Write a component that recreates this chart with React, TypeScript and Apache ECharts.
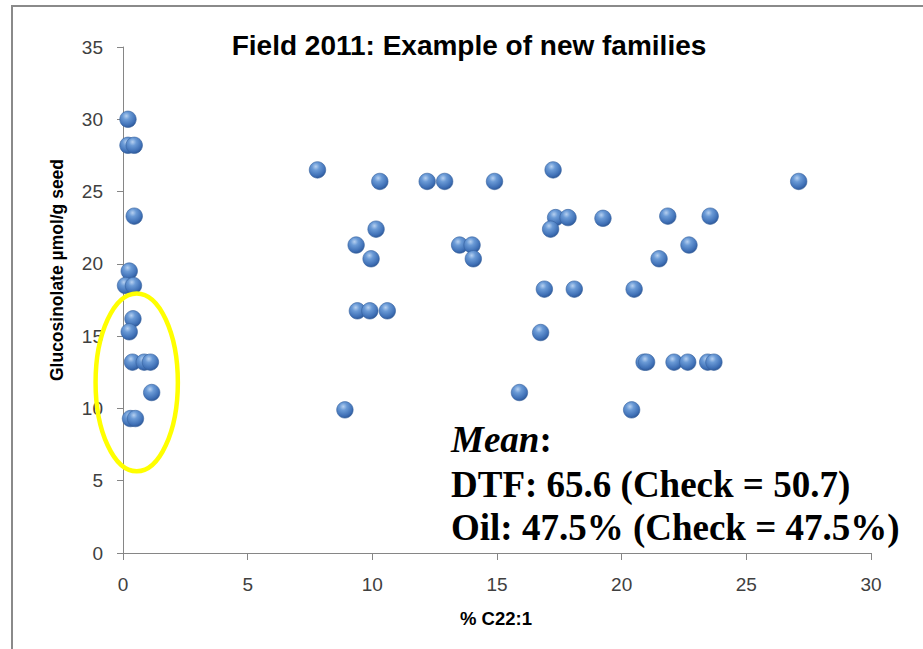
import React, { useEffect, useRef } from "react";
import * as echarts from "echarts";

// % C22:1 values
const xValues: number[] = [
  0.2, 0.2, 0.45, 0.45, 0.25, 0.1, 0.42, 0.4, 0.25, 0.38, 0.85, 1.1, 1.15, 0.3, 0.5,
  7.8, 10.3, 12.2, 12.9, 14.9, 17.25, 27.1,
  10.15, 9.35, 9.95, 13.5, 14.0, 14.05,
  17.35, 17.85, 17.15, 19.25, 21.85, 23.55, 22.7, 21.5,
  16.9, 18.1, 20.5, 9.4, 9.9, 10.6, 16.75,
  15.9, 8.9, 20.4,
  20.9, 21.0, 22.1, 22.65, 23.45, 23.7,
];
// Glucosinolate µmol/g seed values
const yValues: number[] = [
  30.0, 28.2, 28.2, 23.3, 19.5, 18.5, 18.5, 16.2, 15.3, 13.2, 13.2, 13.2, 11.1, 9.3, 9.3,
  26.5, 25.7, 25.7, 25.7, 25.7, 26.5, 25.7,
  22.4, 21.3, 20.35, 21.3, 21.3, 20.35,
  23.2, 23.2, 22.4, 23.15, 23.3, 23.3, 21.3, 20.35,
  18.25, 18.25, 18.25, 16.75, 16.75, 16.75, 15.25,
  11.1, 9.9, 9.9,
  13.2, 13.2, 13.2, 13.2, 13.2, 13.2,
];

const xMin = 0;
const xMax = 30;
const xStep = 5;
const yMin = 0;
const yMax = 35;
const yStep = 5;

const titleText = "Field 2011: Example of new families";
const xAxisName = "% C22:1";
const yAxisName = "Glucosinolate µmol/g seed";
const noteTitle = "Mean";
const noteLines = ["DTF: 65.6 (Check = 50.7)", "Oil: 47.5% (Check = 47.5%)"];

// highlighted group (yellow ellipse), in data units
const ellipseCenter = [0.55, 11.8];
const ellipseRadius = [1.65, 6.15];

export default function App() {
  const ref = useRef<HTMLDivElement>(null);

  useEffect(() => {
    if (!ref.current) return;
    const chart = echarts.init(ref.current, null, { renderer: "svg" });
    const sans = "'Liberation Sans', Arial, sans-serif";
    const serif = "'Liberation Serif', 'Times New Roman', serif";
    const axisColor = "#868686";
    const labelColor = "#404040";

    const data = xValues.map((x, i) => [x, yValues[i]]);

    chart.setOption({
      animation: false,
      backgroundColor: "#ffffff",
      grid: { left: 123, right: 52, top: 47, bottom: 96, containLabel: false },
      xAxis: {
        type: "value",
        min: xMin,
        max: xMax,
        interval: xStep,
        axisLine: { show: true, onZero: false, lineStyle: { color: axisColor, width: 1 } },
        axisTick: { show: true, inside: false, length: 7, lineStyle: { color: axisColor, width: 1 } },
        splitLine: { show: false },
        axisLabel: { margin: 22, fontSize: 19, color: labelColor, fontFamily: sans },
      },
      yAxis: {
        type: "value",
        min: yMin,
        max: yMax,
        interval: yStep,
        axisLine: { show: true, onZero: false, lineStyle: { color: axisColor, width: 1 } },
        axisTick: { show: true, inside: false, length: 6, lineStyle: { color: axisColor, width: 1 } },
        splitLine: { show: false },
        axisLabel: { margin: 20, fontSize: 19, color: labelColor, fontFamily: sans },
      },
      series: [
        {
          type: "scatter",
          symbol: "circle",
          symbolSize: 16.5,
          data,
          itemStyle: {
            color: {
              type: "radial",
              x: 0.4,
              y: 0.3,
              r: 0.75,
              colorStops: [
                { offset: 0, color: "#b6d0f0" },
                { offset: 0.3, color: "#6a9ad6" },
                { offset: 0.75, color: "#3f70b6" },
                { offset: 1, color: "#2a5290" },
              ],
            },
            borderColor: "#35619e",
            borderWidth: 0.6,
            opacity: 1,
          },
        },
      ],
    });

    const c = chart.convertToPixel({ gridIndex: 0 }, ellipseCenter) as number[];
    const e = chart.convertToPixel({ gridIndex: 0 }, [
      ellipseCenter[0] + ellipseRadius[0],
      ellipseCenter[1] + ellipseRadius[1],
    ]) as number[];

    chart.setOption({
      graphic: [
        {
          type: "rect",
          silent: true,
          shape: { x: 12, y: 6, width: 1000, height: 1000 },
          style: { fill: "none", stroke: "#8a8a8a", lineWidth: 2 },
        },
        {
          type: "text",
          x: 469,
          y: 45,
          style: {
            text: titleText,
            font: `bold 28px ${sans}`,
            fill: "#000",
            align: "center",
            verticalAlign: "middle",
          },
        },
        {
          type: "text",
          x: 57,
          y: 270,
          rotation: Math.PI / 2,
          style: {
            text: yAxisName,
            font: `bold 17.5px ${sans}`,
            fill: "#000",
            align: "center",
            verticalAlign: "middle",
          },
        },
        {
          type: "text",
          x: 496,
          y: 618,
          style: {
            text: xAxisName,
            font: `bold 18.5px ${sans}`,
            fill: "#000",
            align: "center",
            verticalAlign: "middle",
          },
        },
        {
          type: "text",
          x: 451,
          y: 439,
          style: {
            text: `{i|${noteTitle}}{b|:}`,
            fill: "#000",
            align: "left",
            verticalAlign: "middle",
            rich: {
              i: { fontFamily: serif, fontWeight: "bold", fontStyle: "italic", fontSize: 37, fill: "#000" },
              b: { fontFamily: serif, fontWeight: "bold", fontSize: 37, fill: "#000" },
            },
          },
        },
        ...noteLines.map((t, i) => ({
          type: "text",
          x: 451,
          y: 484 + i * 43,
          style: {
            text: t,
            font: `bold 37px ${serif}`,
            fill: "#000",
            align: "left",
            verticalAlign: "middle",
          },
        })),
        {
          type: "ellipse",
          silent: true,
          z: 100,
          shape: { cx: c[0], cy: c[1], rx: Math.abs(e[0] - c[0]), ry: Math.abs(c[1] - e[1]) },
          style: { fill: "none", stroke: "#ffff00", lineWidth: 4.5 },
        },
      ],
    });

    return () => chart.dispose();
  }, []);

  return (
    <div
      ref={ref}
      style={{ position: "fixed", left: 0, top: 0, width: 923, height: 649, background: "#fff" }}
    />
  );
}
